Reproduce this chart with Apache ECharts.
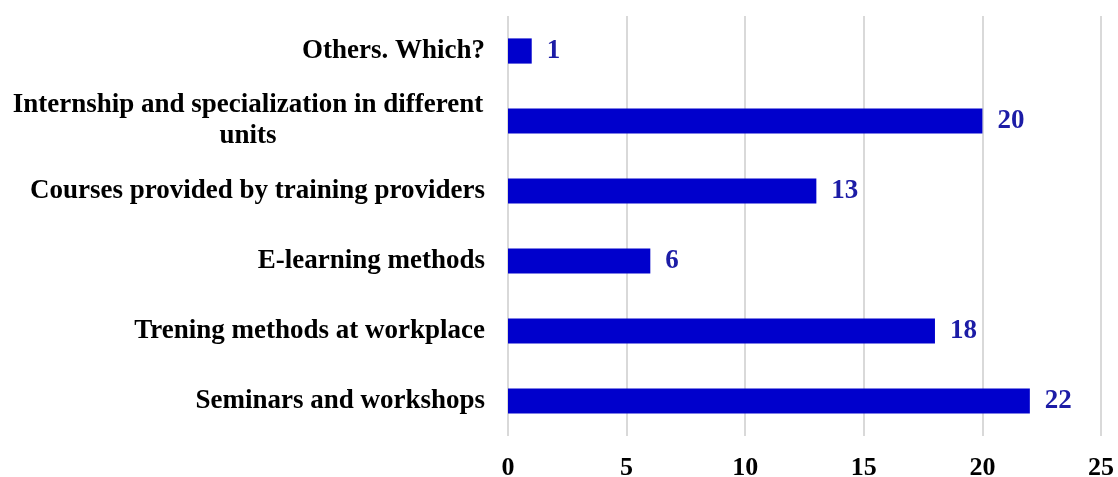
<!DOCTYPE html>
<html>
<head>
<meta charset="utf-8">
<script src="https://cdn.jsdelivr.net/npm/echarts@6/dist/echarts.min.js"></script>
<style>
  html, body { margin: 0; padding: 0; background: #fff; }
  #chart { width: 1118px; height: 477px; }
</style>
</head>
<body>
<div id="chart"></div>
<script>
  // categories listed bottom to top (category axis starts at bottom)
  var categories = [
    'Seminars and workshops',
    'Trening methods at workplace',
    'E-learning methods',
    'Courses provided by training providers',
    'Internship and specialization in different units',
    'Others. Which?'
  ];
  var counts = [22, 18, 6, 13, 20, 1];
  var xTicks = [0, 5, 10, 15, 20, 25];

  var chart = echarts.init(document.getElementById('chart'));
  var serif = '"Liberation Serif", "Times New Roman", serif';

  chart.setOption({
    animation: false,
    // keep the plot box fixed, labels may sit near the edges
    grid: { left: 508, right: 17, top: 16, bottom: 41, outerBoundsMode: 'none' },
    xAxis: {
      type: 'value',
      min: xTicks[0],
      max: xTicks[xTicks.length - 1],
      interval: 5,
      axisLine: { show: false },
      axisTick: { show: false },
      splitLine: { show: true, lineStyle: { color: '#d9d9d9', width: 2 } },
      axisLabel: {
        color: '#000',
        fontFamily: serif,
        fontWeight: 'bold',
        fontSize: 26,
        margin: 19
      }
    },
    yAxis: {
      type: 'category',
      data: categories,
      axisLine: { show: false },
      axisTick: { show: false },
      axisLabel: {
        color: '#000',
        fontFamily: serif,
        fontWeight: 'bold',
        fontSize: 27,
        margin: 23,
        formatter: function (v) {
          // long label wraps onto two centred lines
          if (v.indexOf('Internship') === 0) {
            return '{c|Internship and specialization in different}\n{c|units}';
          }
          return v;
        },
        rich: {
          c: {
            width: 474,
            align: 'center',
            lineHeight: 31,
            color: '#000',
            fontFamily: serif,
            fontWeight: 'bold',
            fontSize: 27
          }
        }
      }
    },
    series: [{
      type: 'bar',
      data: counts,
      barWidth: '36%',
      itemStyle: { color: '#0000CC' },
      label: {
        show: true,
        position: 'right',
        distance: 15,
        color: '#1C1CA6',
        fontFamily: serif,
        fontWeight: 'bold',
        fontSize: 27
      }
    }]
  });
</script>
</body>
</html>
